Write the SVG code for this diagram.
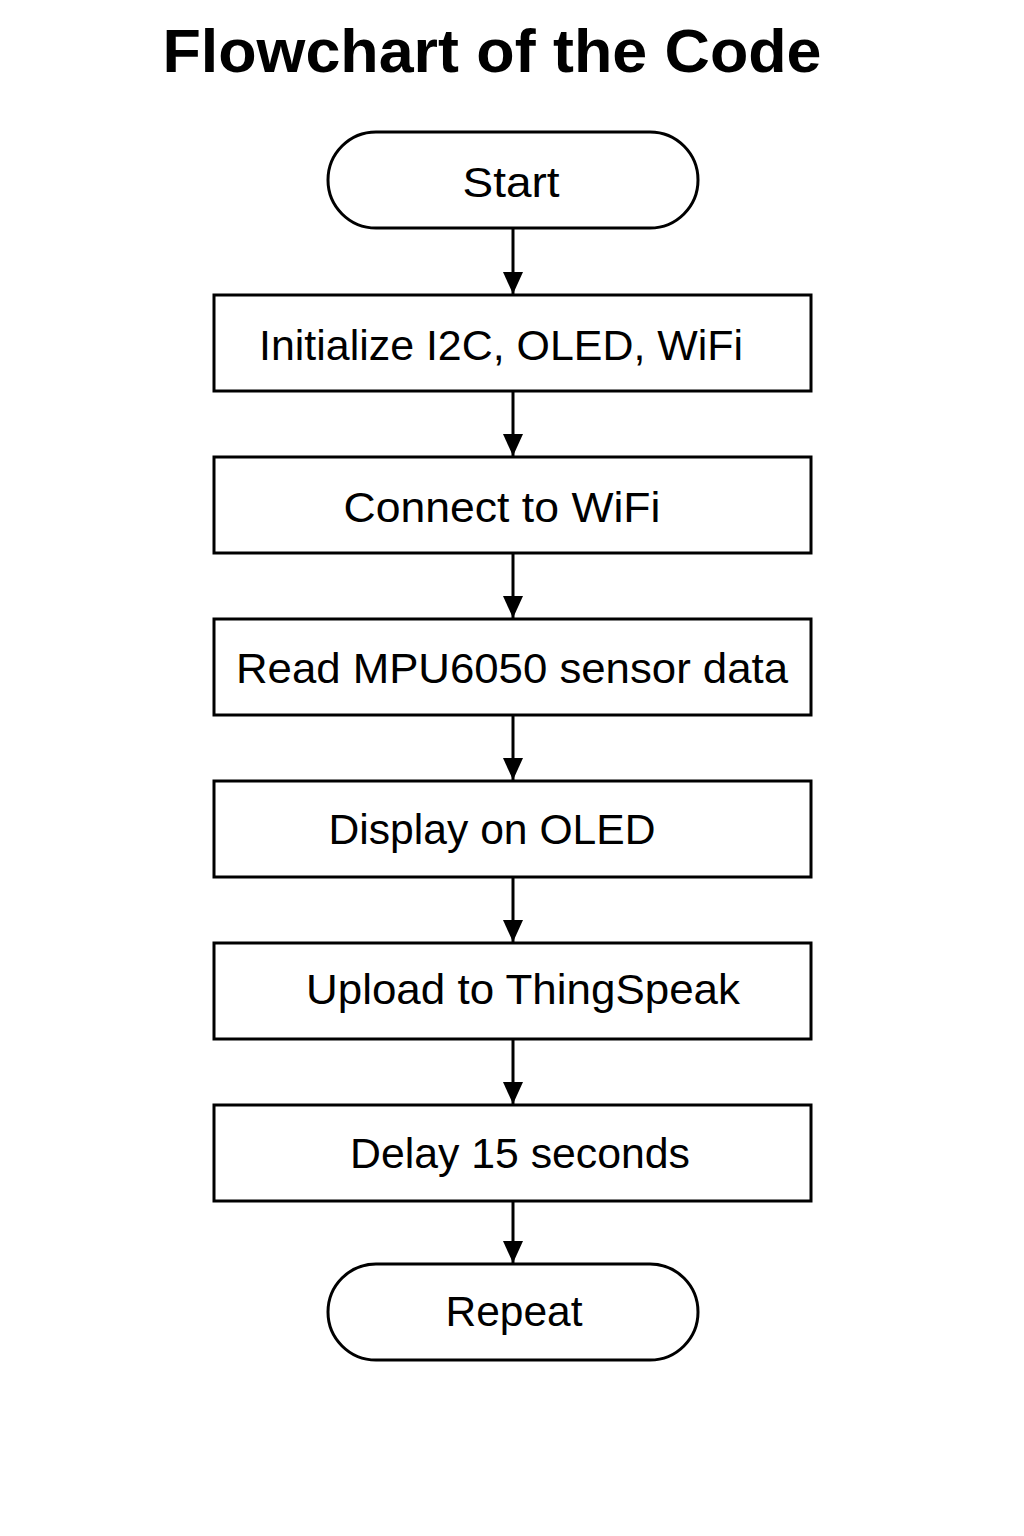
<svg xmlns="http://www.w3.org/2000/svg" width="1024" height="1536" viewBox="0 0 1024 1536">
<defs>
<style>
.box{fill:#fff;stroke:#000;stroke-width:3}
.lbl{font-family:"Liberation Sans","DejaVu Sans",sans-serif;font-size:42px;fill:#000;text-anchor:middle}
.title{font-family:"Liberation Sans","DejaVu Sans",sans-serif;font-size:62px;font-weight:bold;fill:#000;text-anchor:middle}
.edge{stroke:#000;stroke-width:3;fill:none;marker-end:url(#ah)}
</style>
<marker id="ah" markerUnits="userSpaceOnUse" markerWidth="24" markerHeight="20" refX="22" refY="10" orient="auto">
<path d="M0,0 L22,10 L0,20 Z" fill="#000"/>
</marker>
</defs>
<rect width="1024" height="1536" fill="#fff"/>
<text class="title" x="492" y="72" textLength="659" lengthAdjust="spacingAndGlyphs">Flowchart of the Code</text>
<g id="connectors">
<line class="edge" x1="513" y1="228" x2="513" y2="294"/>
<line class="edge" x1="513" y1="391" x2="513" y2="456"/>
<line class="edge" x1="513" y1="553" x2="513" y2="618"/>
<line class="edge" x1="513" y1="715" x2="513" y2="780"/>
<line class="edge" x1="513" y1="877" x2="513" y2="942"/>
<line class="edge" x1="513" y1="1039" x2="513" y2="1104"/>
<line class="edge" x1="513" y1="1201" x2="513" y2="1263"/>
</g>
<g id="start">
<rect class="box" x="328" y="132" width="370" height="96" rx="48" ry="48"/>
<text class="lbl" x="511" y="197" textLength="97" lengthAdjust="spacingAndGlyphs">Start</text>
</g>
<g id="init">
<rect class="box" x="214" y="295" width="597" height="96"/>
<text class="lbl" x="501" y="360" textLength="484" lengthAdjust="spacingAndGlyphs">Initialize I2C, OLED, WiFi</text>
</g>
<g id="connect">
<rect class="box" x="214" y="457" width="597" height="96"/>
<text class="lbl" x="502" y="522" textLength="317" lengthAdjust="spacingAndGlyphs">Connect to WiFi</text>
</g>
<g id="read">
<rect class="box" x="214" y="619" width="597" height="96"/>
<text class="lbl" x="512" y="683" textLength="552" lengthAdjust="spacingAndGlyphs">Read MPU6050 sensor data</text>
</g>
<g id="display">
<rect class="box" x="214" y="781" width="597" height="96"/>
<text class="lbl" x="492" y="844" textLength="327" lengthAdjust="spacingAndGlyphs">Display on OLED</text>
</g>
<g id="upload">
<rect class="box" x="214" y="943" width="597" height="96"/>
<text class="lbl" x="523" y="1004" textLength="434" lengthAdjust="spacingAndGlyphs">Upload to ThingSpeak</text>
</g>
<g id="delay">
<rect class="box" x="214" y="1105" width="597" height="96"/>
<text class="lbl" x="520" y="1168" textLength="340" lengthAdjust="spacingAndGlyphs">Delay 15 seconds</text>
</g>
<g id="repeat">
<rect class="box" x="328" y="1264" width="370" height="96" rx="48" ry="48"/>
<text class="lbl" x="514" y="1326" textLength="137" lengthAdjust="spacingAndGlyphs">Repeat</text>
</g>
</svg>
